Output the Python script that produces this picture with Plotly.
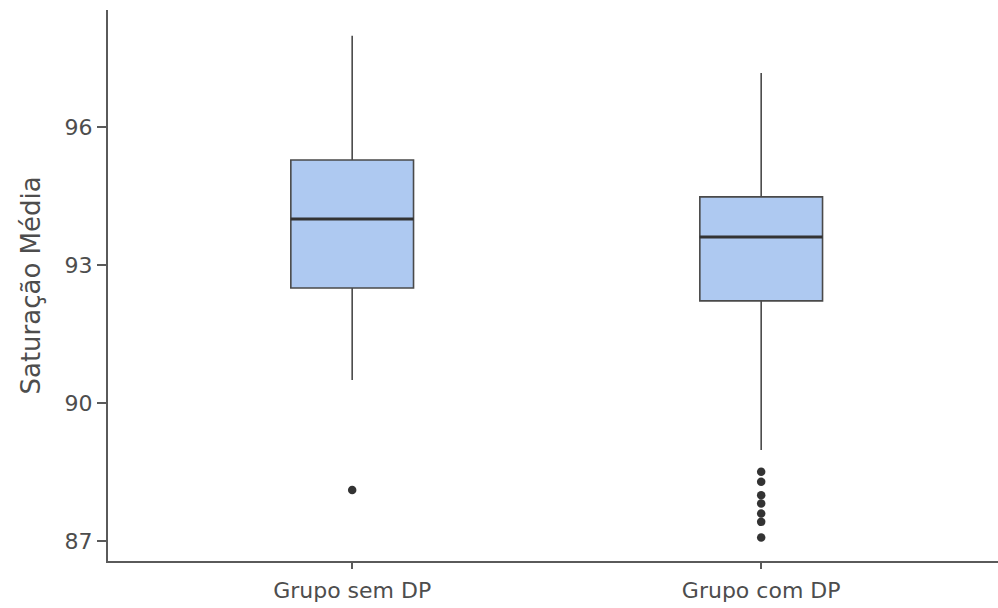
import plotly.graph_objects as go

# Group labels and per-group box statistics (Saturação Média)
groups = ["Grupo sem DP", "Grupo com DP"]
q1 = [92.50, 92.22]
median = [94.00, 93.61]
q3 = [95.28, 94.48]
lower_whisker = [90.50, 88.98]
upper_whisker = [97.98, 97.17]

# Points beyond the whiskers
outliers_sem_dp = [88.11]
outliers_com_dp = [88.51, 88.29, 88.00, 87.82, 87.60, 87.42, 87.08]

y_ticks = [87, 90, 93, 96]

BOX_WIDTH = 0.30
FILL = "#aec9f1"
EDGE = "#4a4a4a"
DARK = "#333333"
TEXT = "#4d4d4d"
FONT = "DejaVu Sans, Arial, sans-serif"

positions = list(range(len(groups)))

fig = go.Figure()

for i, g in enumerate(groups):
    fig.add_trace(go.Box(
        x=[positions[i]],
        q1=[q1[i]], median=[median[i]], q3=[q3[i]],
        lowerfence=[lower_whisker[i]], upperfence=[upper_whisker[i]],
        width=BOX_WIDTH,
        whiskerwidth=0,
        fillcolor=FILL,
        line=dict(color=EDGE, width=1.6),
        boxpoints=False,
        name=g,
        showlegend=False,
        hoverinfo="skip",
    ))
    # thicker median bar drawn over the box
    fig.add_trace(go.Scatter(
        x=[positions[i] - BOX_WIDTH / 2, positions[i] + BOX_WIDTH / 2],
        y=[median[i], median[i]],
        mode="lines",
        line=dict(color=DARK, width=3),
        showlegend=False,
        hoverinfo="skip",
    ))

for i, pts in enumerate([outliers_sem_dp, outliers_com_dp]):
    fig.add_trace(go.Scatter(
        x=[positions[i]] * len(pts),
        y=pts,
        mode="markers",
        marker=dict(color=DARK, size=8.5),
        showlegend=False,
        hoverinfo="skip",
    ))

fig.update_layout(
    width=998, height=608,
    margin=dict(l=108, r=0, t=10, b=47),
    plot_bgcolor="white",
    paper_bgcolor="white",
    font=dict(family=FONT, color=TEXT),
    annotations=[dict(
        text="Saturação Média",
        xref="paper", yref="paper",
        x=-0.0876, y=0.5,
        xanchor="center", yanchor="middle",
        textangle=-90,
        showarrow=False,
        font=dict(size=26, color=TEXT),
    )],
)

fig.update_xaxes(
    range=[-0.597, 1.579],
    tickmode="array",
    tickvals=positions,
    ticktext=groups,
    showgrid=False,
    zeroline=False,
    showline=True,
    linecolor="#5a5a5a",
    linewidth=2,
    ticks="outside",
    ticklen=6,
    tickwidth=1.5,
    tickcolor="#5a5a5a",
    ticklabelstandoff=3,
    tickfont=dict(size=22, color=TEXT),
)

fig.update_yaxes(
    range=[86.57, 98.54],
    tickmode="array",
    tickvals=y_ticks,
    ticktext=[str(t) for t in y_ticks],
    showgrid=False,
    zeroline=False,
    showline=True,
    linecolor="#5a5a5a",
    linewidth=2,
    ticks="outside",
    ticklen=9,
    tickwidth=1.5,
    tickcolor="#5a5a5a",
    tickfont=dict(size=22, color=TEXT),
)

fig.write_html("out.html")
